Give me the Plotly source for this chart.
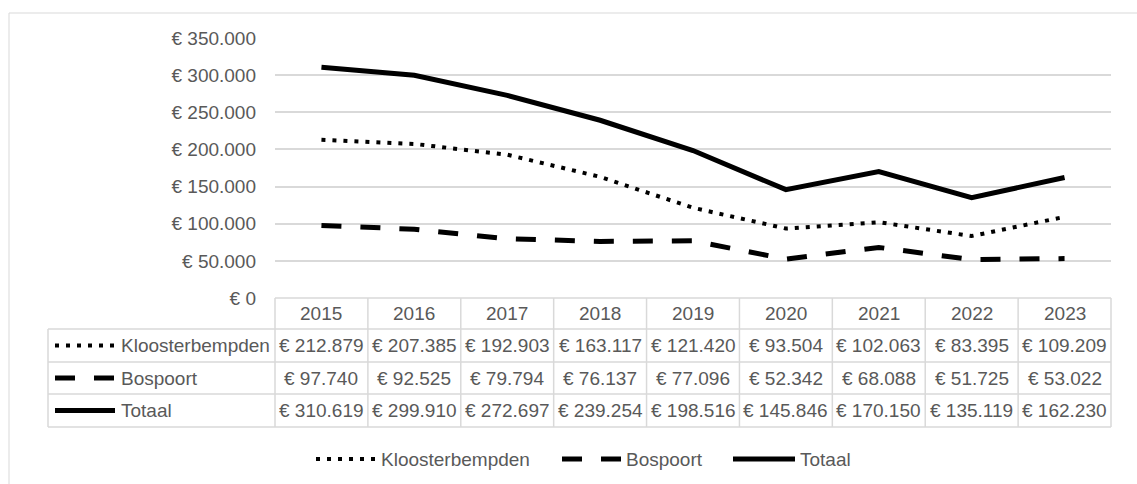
import plotly.graph_objects as go

# ---------------- data ----------------
years = ["2015", "2016", "2017", "2018", "2019", "2020", "2021", "2022", "2023"]
kloosterbempden = [212879, 207385, 192903, 163117, 121420, 93504, 102063, 83395, 109209]
bospoort = [97740, 92525, 79794, 76137, 77096, 52342, 68088, 51725, 53022]
totaal = [310619, 299910, 272697, 239254, 198516, 145846, 170150, 135119, 162230]
series_names = ["Kloosterbempden", "Bospoort", "Totaal"]
y_ticks = [0, 50000, 100000, 150000, 200000, 250000, 300000, 350000]


def euro(v):
    return "€ " + f"{v:,}".replace(",", ".")


# ---------------- layout geometry ----------------
W, H = 1137, 484
ML, MR, MT, MB = 275, 26, 38, 186
PW = W - ML - MR
PH = H - MT - MB
FONT = "Liberation Sans"
FS = 19
TXT = "#595959"
GRID = "#d9d9d9"
XR = [-0.5, len(years) - 0.5]


def px_x(x):
    return (x - ML) / PW


def px_y(y):
    return (H - MB - y) / PH


def cat_center(i):
    return (i - XR[0]) / (XR[1] - XR[0])


def cat_edge(i):
    return (i - 0.5 - XR[0]) / (XR[1] - XR[0])


styles = {
    "Kloosterbempden": dict(dash="4px,7px", width=4),
    "Bospoort": dict(dash="20px,19px", width=5),
    "Totaal": dict(dash="solid", width=5),
}
values = {"Kloosterbempden": kloosterbempden, "Bospoort": bospoort, "Totaal": totaal}

fig = go.Figure()
for name in series_names:
    st = styles[name]
    fig.add_trace(go.Scatter(
        x=years, y=values[name], name=name, mode="lines",
        line=dict(color="black", width=st["width"], dash=st["dash"]),
        showlegend=False,
    ))

shapes = []
annotations = []

# outer chart border
shapes.append(dict(type="rect", xref="paper", yref="paper",
                   x0=px_x(9), x1=px_x(1160), y0=px_y(13), y1=px_y(520),
                   line=dict(color=GRID, width=1), fillcolor="rgba(0,0,0,0)", layer="below"))

# data table
row_edges = [298, 329, 362, 394, 427]
left_edge = 48
x_right = cat_edge(len(years))
shapes.append(dict(type="line", xref="paper", yref="paper", x0=0, x1=x_right,
                   y0=px_y(row_edges[0]), y1=px_y(row_edges[0]), line=dict(color=GRID, width=1.5)))
for ry in row_edges[1:]:
    shapes.append(dict(type="line", xref="paper", yref="paper", x0=px_x(left_edge), x1=x_right,
                       y0=px_y(ry), y1=px_y(ry), line=dict(color=GRID, width=1.5)))
shapes.append(dict(type="line", xref="paper", yref="paper", x0=px_x(left_edge), x1=px_x(left_edge),
                   y0=px_y(row_edges[1]), y1=px_y(row_edges[-1]), line=dict(color=GRID, width=1.5)))
for i in range(len(years) + 1):
    xe = cat_edge(i)
    shapes.append(dict(type="line", xref="paper", yref="paper", x0=xe, x1=xe,
                       y0=px_y(row_edges[0]), y1=px_y(row_edges[-1]), line=dict(color=GRID, width=1.5)))

row_centers = [(row_edges[k] + row_edges[k + 1]) / 2 for k in range(len(row_edges) - 1)]

for i, yr in enumerate(years):
    annotations.append(dict(x=cat_center(i), xref="paper", y=px_y(row_centers[0]), yref="paper",
                            text=yr, showarrow=False, xanchor="center", yanchor="middle",
                            font=dict(family=FONT, size=FS, color=TXT)))

for r, name in enumerate(series_names):
    yc = px_y(row_centers[r + 1])
    st = styles[name]
    shapes.append(dict(type="line", xref="paper", yref="paper",
                       x0=px_x(55), x1=px_x(115), y0=yc, y1=yc,
                       line=dict(color="black", width=st["width"], dash=st["dash"])))
    annotations.append(dict(x=px_x(119), xref="paper", y=yc, yref="paper", text=name,
                            showarrow=False, xanchor="left", yanchor="middle",
                            font=dict(family=FONT, size=FS, color=TXT)))
    for i, v in enumerate(values[name]):
        annotations.append(dict(x=cat_center(i), xref="paper", y=yc, yref="paper", text=euro(v),
                                showarrow=False, xanchor="center", yanchor="middle",
                                font=dict(family=FONT, size=FS, color=TXT)))

# bottom legend
legend_pos = {"Kloosterbempden": (316, 376), "Bospoort": (562, 621), "Totaal": (733, 795)}
ly = px_y(459)
for name in series_names:
    x0, x1 = legend_pos[name]
    st = styles[name]
    shapes.append(dict(type="line", xref="paper", yref="paper",
                       x0=px_x(x0), x1=px_x(x1), y0=ly, y1=ly,
                       line=dict(color="black", width=st["width"], dash=st["dash"])))
    annotations.append(dict(x=px_x(x1 + 3), xref="paper", y=ly, yref="paper", text=name,
                            showarrow=False, xanchor="left", yanchor="middle",
                            font=dict(family=FONT, size=FS, color=TXT)))

fig.update_layout(
    width=W, height=H, autosize=False,
    margin=dict(l=ML, r=MR, t=MT, b=MB, pad=0),
    plot_bgcolor="white", paper_bgcolor="white",
    font=dict(family=FONT, size=FS, color=TXT),
    xaxis=dict(type="category", range=XR, showticklabels=False, showgrid=False,
               zeroline=False, showline=False, ticks=""),
    yaxis=dict(range=[0, 350000], tickvals=y_ticks, ticktext=[euro(v) for v in y_ticks],
               showgrid=True, gridcolor=GRID, gridwidth=1.5, zeroline=False, showline=False,
               ticks="", ticklabelstandoff=18,
               tickfont=dict(family=FONT, size=FS, color=TXT)),
    shapes=shapes, annotations=annotations, showlegend=False,
)

fig.write_html("out.html", config={"displayModeBar": False},
               post_script="document.body.style.margin='0';")
